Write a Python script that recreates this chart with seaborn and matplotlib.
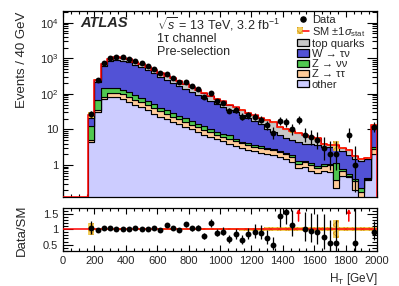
import numpy as np
import pandas as pd
import matplotlib
matplotlib.use("Agg")
import matplotlib.pyplot as plt
from matplotlib.lines import Line2D
from matplotlib.patches import Patch
from matplotlib.legend_handler import HandlerTuple
from matplotlib.ticker import FuncFormatter, MultipleLocator, LogLocator, NullFormatter
import seaborn as sns

# H_T binning: 40 GeV bins from 160 GeV, last bin holds the overflow
bin_edges = np.arange(160, 2001, 40)
bin_centres = bin_edges[:-1] + 20

# stacked backgrounds (events per bin)
other = [4.5, 31, 70, 83, 82, 72, 60, 50, 42, 35, 28, 23, 19.5, 16.5, 14, 12, 10, 8.5, 7.2, 6.2,
         5.3, 4.6, 4.0, 3.4, 3.0, 2.7, 2.4, 2.2, 2.1, 1.9, 1.7, 1.5, 1.2, 0.8, 0.9, 0.7, 0.6, 0.7,
         0.65, 0.23, 0.5, 0.45, 0.2, 0.1, 0.38, 2.0]
z_tautau = [0.5, 5, 13, 25, 26, 25, 22, 19, 16, 13, 11, 9, 7.5, 6.2, 5.2, 4.4, 3.7, 3.1, 2.6, 2.2,
            1.9, 1.6, 1.4, 1.2, 1.1, 1.0, 0.9, 0.8, 0.8, 0.8, 0.6, 0.5, 0.45, 0.3, 0.3, 0.3, 0.25,
            0.25, 0.35, 0.15, 0.2, 0.05, 0.15, 0.08, 0.02, 0.8]
z_nunu = [7.5, 31, 59, 41, 38, 33, 27, 22, 18, 15, 12, 8.5, 7.5, 6.3, 5.3, 4.5, 3.6, 2.8, 2.4, 2.0,
          1.5, 1.3, 1.4, 0.9, 0.3, 0.5, 0.3, 0.4, 0.2, 0.1, 0.2, 0.15, 0.3, 0.2, 0.1, 0.15, 0.1,
          0.1, 0.1, 0.75, 0.05, 0.05, 0.05, 0.04, 0.02, 0.4]
w_taunu = [8, 151, 467, 680, 736, 733, 678, 561, 488, 395, 323, 250, 206, 170, 139, 115, 96, 80,
           66, 54, 44, 36.5, 29, 25, 21, 17, 13.4, 10.6, 7.4, 5.7, 4.5, 3.75, 3.05, 3.0, 2.7, 2.65,
           2.65, 2.1, 2.1, 1.97, 1.75, 1.35, 1.1, 1.08, 1.03, 6.8]
top_quarks = [5.5, 27, 91, 146, 168, 177, 173, 153, 141, 122, 106, 97, 84, 73, 61, 52, 44, 36, 30,
              25, 20, 17, 14, 11.5, 9.5, 8.5, 8, 7.5, 8, 7.5, 5, 4.3, 3.8, 3.7, 3.0, 2.5, 2.0, 0.8,
              0.4, 0.5, 0.5, 0.7, 0.3, 0.2, 0.15, 3.0]

# observed events
data = [27, 240, 735, 1005, 1050, 1060, 950, 830, 720, 590, 500, 380, 364, 283, 216, 218, 162, 137,
        83, 107, 64, 56, 34, 35, 23, 25, 23, 19, 13, 8, 17, 16, 10, 18, 7, 6, 5, 3, 2, 2, 0, 7, 1,
        0, 0, 12]

# relative statistical uncertainty of the SM prediction
stat_rel = [0.2, 0.04, 0.025, 0.025, 0.025, 0.025, 0.025, 0.025, 0.025, 0.025, 0.025, 0.025, 0.025,
            0.025, 0.025, 0.025, 0.025, 0.025, 0.03, 0.04, 0.04, 0.04, 0.04, 0.04, 0.05, 0.05, 0.05,
            0.05, 0.07, 0.07, 0.07, 0.07, 0.07, 0.07, 0.07, 0.07, 0.07, 0.07, 0.07, 0.3, 0.07, 0.07,
            0.07, 0.07, 0.07, 0.06]

processes = ["top quarks", "W → τν", "Z → νν", "Z → ττ", "other"]
colours = {"top quarks": "#c8c8c8", "W → τν": "#5252d6", "Z → νν": "#50c850",
           "Z → ττ": "#ffcc99", "other": "#ccccff"}
band_face = "#f2cf5e"
band_hatch = "#d99a1e"

# ---- derived quantities ----
stack = np.array([top_quarks, w_taunu, z_nunu, z_tautau, other], dtype=float)
sm = stack.sum(axis=0)
d = np.array(data, dtype=float)
s = np.array(stat_rel)

# Poisson (Gehrels) intervals for the data points
with np.errstate(divide="ignore", invalid="ignore"):
    d_up = d + np.sqrt(d + 0.75) + 1.0
    d_lo = np.where(d > 0, d * (1 - 1 / (9 * d) - 1 / (3 * np.sqrt(d))) ** 3, 0)
has_data = d > 0

ymin, ymax = 0.126, 2.1e4
rmin, rmax = 0.28, 1.67

df = pd.DataFrame({
    "ht": np.tile(bin_centres, len(processes)).astype(float),
    "events": stack.ravel(),
    "process": np.repeat(processes, len(bin_centres)),
})

sns.set_theme(style="ticks")
plt.rcParams["font.family"] = ["Liberation Sans", "DejaVu Sans"]
plt.rcParams["mathtext.fontset"] = "custom"
plt.rcParams["mathtext.rm"] = "Liberation Sans"
plt.rcParams["mathtext.it"] = "Liberation Sans:italic"
plt.rcParams["mathtext.bf"] = "Liberation Sans:bold"
plt.rcParams["hatch.linewidth"] = 0.7

fig = plt.figure(figsize=(3.99, 2.86), dpi=100)
ax = fig.add_axes([0.158, 0.311, 0.787, 0.650])
ax_r = fig.add_axes([0.158, 0.121, 0.787, 0.150])

# ---- main panel ----
ax.set_yscale("log")
sns.histplot(data=df, x="ht", weights="events", hue="process", hue_order=processes,
             multiple="stack", bins=[float(e) for e in bin_edges], element="step",
             palette=colours, edgecolor="black", linewidth=0.8, alpha=1, legend=False, ax=ax)

ax.stairs(sm * (1 + s), bin_edges, baseline=sm * (1 - s), fill=True,
          facecolor=band_face, edgecolor=band_hatch, hatch="xxxx", linewidth=0, zorder=3)

full_edges = np.arange(0, 2001, 40)
n_empty = len(full_edges) - 1 - len(sm)
sm_full = np.concatenate([np.full(n_empty, ymin), sm])
ax.stairs(sm_full, full_edges, baseline=ymin, color="red", linewidth=1.1, zorder=4)

ax.errorbar(bin_centres[has_data], d[has_data],
            yerr=[(d - d_lo)[has_data], (d_up - d)[has_data]],
            fmt="none", ecolor="black", elinewidth=0.9, zorder=5)
sns.scatterplot(x=bin_centres[has_data], y=d[has_data], color="black", s=18,
                edgecolor="black", linewidth=0, zorder=6, ax=ax)

ax.set_xlim(0, 2000)
ax.set_ylim(ymin, ymax)
ax.set_xlabel("")
ax.set_ylabel("Events / 40 GeV", fontsize=9.5, loc="top")
ax.yaxis.set_label_coords(-0.112, 1.0)


def log_label(v, pos):
    if v == 1:
        return "1"
    if v == 10:
        return "10"
    return r"$10^{%d}$" % int(round(np.log10(v)))


ax.yaxis.set_major_locator(LogLocator(base=10, numticks=10))
ax.yaxis.set_minor_locator(LogLocator(base=10, subs=np.arange(2, 10), numticks=20))
ax.yaxis.set_major_formatter(FuncFormatter(log_label))
ax.yaxis.set_minor_formatter(NullFormatter())
ax.xaxis.set_major_locator(MultipleLocator(200))
ax.xaxis.set_minor_locator(MultipleLocator(50))
ax.tick_params(axis="x", labelbottom=False)

ax.text(0.055, 0.938, "ATLAS", transform=ax.transAxes, fontsize=10.5,
        fontweight="bold", style="italic", va="center")
ax.text(0.298, 0.932, r"$\sqrt{s}$ = 13 TeV, 3.2 fb$^{-1}$", transform=ax.transAxes,
        fontsize=9, va="center")
ax.text(0.298, 0.852, "1τ channel", transform=ax.transAxes, fontsize=9, va="center")
ax.text(0.298, 0.782, "Pre-selection", transform=ax.transAxes, fontsize=9, va="center")

handles = [Line2D([], [], marker="o", color="black", ls="none", ms=3.7),
           (Patch(facecolor=band_face, edgecolor=band_hatch, hatch="xxxx", linewidth=0),
            Line2D([], [], color="red", lw=1.1))]
labels = ["Data", r"SM $\pm$1$\sigma_{\rm stat}$"]
for p in processes:
    handles.append(Patch(facecolor=colours[p], edgecolor="black", linewidth=0.9))
    labels.append(p)
ax.legend(handles, labels, loc="upper right", bbox_to_anchor=(0.962, 0.982), frameon=False,
          fontsize=8, handlelength=1.1, handleheight=0.62, handletextpad=0.25,
          labelspacing=0.02, borderaxespad=0, borderpad=0,
          handler_map={tuple: HandlerTuple(ndivide=None)})

# ---- ratio panel ----
ax_r.stairs(1 + s, bin_edges, baseline=1 - s, fill=True, facecolor=band_face,
            edgecolor=band_hatch, hatch="xxxx", linewidth=0, zorder=2)
ax_r.axhline(1, color="red", linewidth=1.1, zorder=3)

ratio = d / sm
in_range = has_data & (ratio < rmax)
ax_r.errorbar(bin_centres[in_range], ratio[in_range],
              yerr=[((d - d_lo) / sm)[in_range], ((d_up - d) / sm)[in_range]],
              fmt="none", ecolor="black", elinewidth=0.9, zorder=4)
sns.scatterplot(x=bin_centres[in_range], y=ratio[in_range], color="black", s=18,
                linewidth=0, zorder=5, ax=ax_r)
for xc in bin_centres[has_data & (ratio >= rmax)]:
    ax_r.annotate("", xy=(xc, rmax - 0.01), xytext=(xc, 1.26),
                  arrowprops=dict(arrowstyle="-|>", color="red", lw=1.1, mutation_scale=5,
                                  shrinkA=0, shrinkB=0))

ax_r.set_xlim(0, 2000)
ax_r.set_ylim(rmin, rmax)
ax_r.yaxis.set_major_locator(MultipleLocator(0.5))
ax_r.yaxis.set_minor_locator(MultipleLocator(0.1))
ax_r.yaxis.set_major_formatter(FuncFormatter(lambda v, p: "%g" % v))
ax_r.xaxis.set_major_locator(MultipleLocator(200))
ax_r.xaxis.set_minor_locator(MultipleLocator(50))
ax_r.set_ylabel("Data/SM", fontsize=9.5)
ax_r.yaxis.set_label_coords(-0.112, 0.5)
ax_r.set_xlabel(r"H$_{\rm T}$ [GeV]", fontsize=8.5, loc="right")
ax_r.xaxis.set_label_coords(1.0, -0.45)

for a in (ax, ax_r):
    a.tick_params(which="both", direction="in", top=True, right=True, labelsize=8,
                  color="black", width=0.8)
    a.tick_params(axis="y", which="major", length=7)
    a.tick_params(axis="y", which="minor", length=3.8)
    a.tick_params(axis="x", which="major", length=4)
    a.tick_params(axis="x", which="minor", length=2)
    for sp in a.spines.values():
        sp.set_linewidth(0.9)
        sp.set_color("black")
ax_r.tick_params(axis="x", which="major", pad=3)

fig.savefig("out.png", dpi=100)
